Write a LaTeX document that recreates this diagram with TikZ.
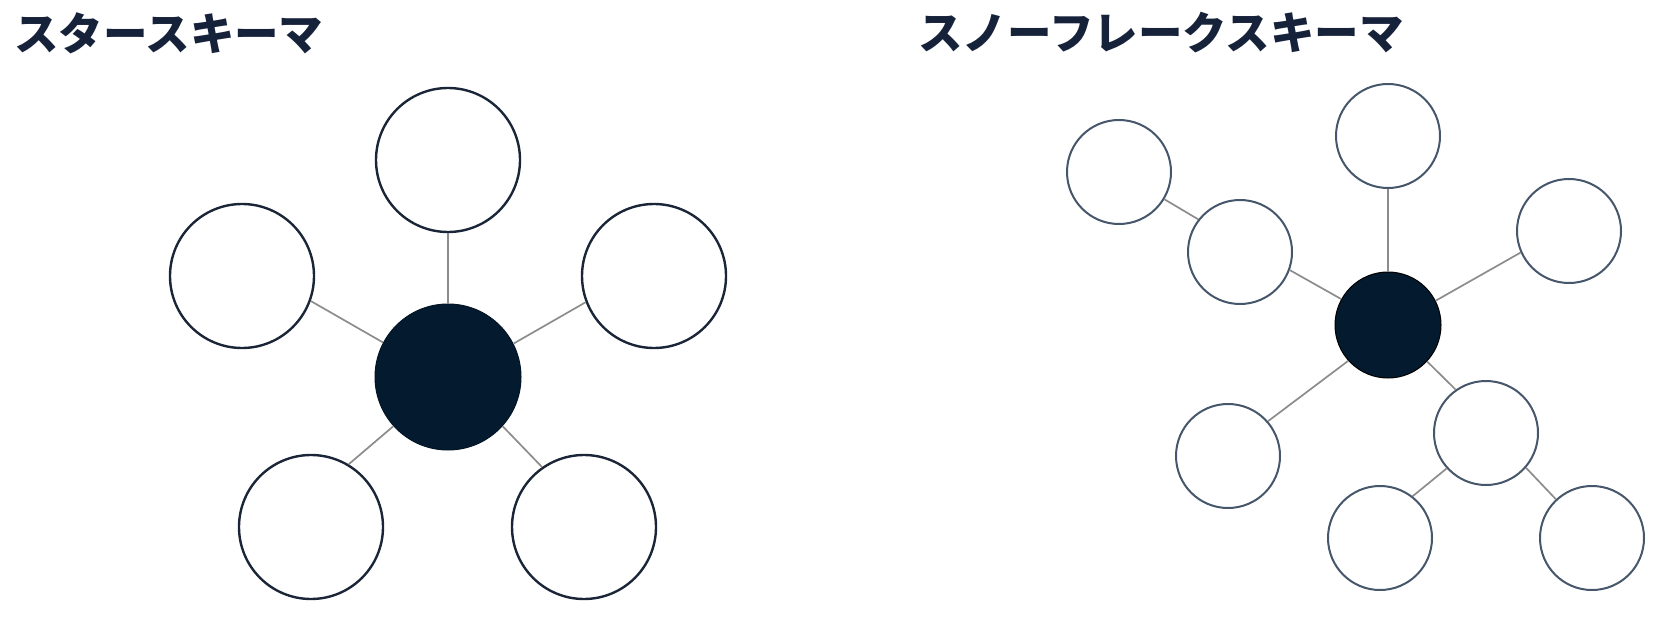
\documentclass[tikz,border=0pt]{standalone}
\usepackage{fontspec}
\newfontfamily\jpfont{Noto Sans CJK JP Black}
\definecolor{navy}{HTML}{041A2F}
\definecolor{titlec}{HTML}{16213A}
\definecolor{staredge}{HTML}{1A2638}
\definecolor{snowedge}{HTML}{46566B}
\definecolor{linkc}{HTML}{8C8C8C}
\tikzset{
  starball/.style={circle, draw=staredge, line width=2.4bp, fill=white, minimum size=144bp, inner sep=0pt},
  snowball/.style={circle, draw=snowedge, line width=2bp, fill=white, minimum size=104bp, inner sep=0pt},
  starhub/.style={circle, draw=navy!80!black, line width=1bp, fill=navy, minimum size=146bp, inner sep=0pt},
  snowhub/.style={circle, draw=black, line width=1bp, fill=navy, minimum size=106bp, inner sep=0pt},
  link/.style={draw=linkc, line width=1.7bp},
  titletext/.style={anchor=west, inner sep=0pt, text=titlec, font=\jpfont\fontsize{44.5bp}{44.5bp}\selectfont}
}
\begin{document}
\begin{tikzpicture}[x=1bp, y=-1bp]
\useasboundingbox (0,0) rectangle (1664,624);
% titles
\node[titletext] (t1) at (14,33) {スタースキーマ};
\node[titletext] (t2) at (918,33) {スノーフレークスキーマ};
% star schema
\node[starhub] (sc) at (448,377) {};
\node[starball] (st) at (448,160) {};
\node[starball] (sl) at (242,276) {};
\node[starball] (sr) at (654,276) {};
\node[starball] (sbl) at (311,527) {};
\node[starball] (sbr) at (584,527) {};
\draw[link] (sc.90) -- (st.270);
\draw[link] (sc.152) -- (sl.340);
\draw[link] (sc.27) -- (sr.201);
\draw[link] (sc.222) -- (sbl.59);
\draw[link] (sc.318) -- (sbr.125);
% snowflake schema
\node[snowhub] (fc) at (1388,325) {};
\node[snowball] (ft) at (1388,136) {};
\node[snowball] (fr) at (1569,231) {};
\node[snowball] (fm) at (1240,252) {};
\node[snowball] (ff) at (1119,172) {};
\node[snowball] (fll) at (1228,456) {};
\node[snowball] (flr) at (1486,433) {};
\node[snowball] (fbl) at (1380,538) {};
\node[snowball] (fbr) at (1592,538) {};
\draw[link] (fc.90) -- (ft.270);
\draw[link] (fc.27) -- (fr.204);
\draw[link] (fc.151) -- (fm.340);
\draw[link] (fm.142) -- (ff.329);
\draw[link] (fc.222) -- (fll.41);
\draw[link] (fc.317) -- (flr.125);
\draw[link] (flr.222) -- (fbl.52);
\draw[link] (flr.319) -- (fbr.133);
\end{tikzpicture}
\end{document}
